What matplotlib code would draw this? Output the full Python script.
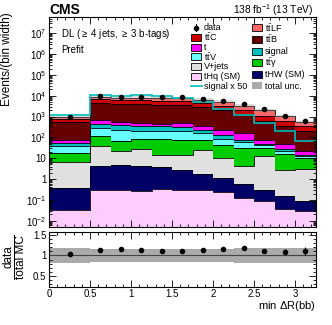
import numpy as np
import matplotlib
matplotlib.use('Agg')
import matplotlib.pyplot as plt
from matplotlib.ticker import FixedLocator, MultipleLocator, FuncFormatter, NullFormatter
from matplotlib.patches import Rectangle
from matplotlib.lines import Line2D

plt.rcParams['font.family'] = ['Liberation Sans', 'DejaVu Sans']
plt.rcParams['mathtext.fontset'] = 'custom'
plt.rcParams['mathtext.rm'] = 'Liberation Sans'
plt.rcParams['mathtext.it'] = 'Liberation Sans:italic'
plt.rcParams['mathtext.bf'] = 'Liberation Sans:bold'

# binning in min dR(bb)
edges = [0, 0.5, 0.75, 1.0, 1.25, 1.5, 1.75, 2.0, 2.25, 2.5, 2.75, 3.0, 3.25]

# events / bin width, stacked from the bottom up
thq = [0.034, 0.29, 0.29, 0.28, 0.33, 0.31, 0.31, 0.25, 0.12, 0.085, 0.037, 0.030]
thw = [0.35, 3.8, 4.3, 4.1, 3.5, 2.5, 1.5, 0.86, 0.46, 0.20, 0.12, 0.054]
vjets = [6.5, 33, 17, 24, 11, 12, 24, 9.2, 3.8, 12, 2.5, 2.8]
ttgamma = [11, 76, 44, 57, 70, 64, 53, 35, 27, 19, 13.5, 7.5]
ttv = [19, 173, 172, 111, 111, 118, 86, 40, 27, 10.4, 7.1, 2.0]
signal = [17, 174, 145, 146, 146, 135, 73, 52, 20, 7.0, 4.8, 2.6]
single_t = [24, 204, 174, 156, 118, 156, 105, 83, 86, 30, 21, 8.3]
ttb = [478, 3900, 3660, 3720, 3320, 3290, 2690, 1950, 1160, 565, 320, 189]
ttc = [185, 2380, 2340, 2340, 2090, 2100, 1680, 1210, 850, 474, 274, 157]
ttlf = [194, 1340, 940, 1450, 1960, 1710, 1720, 1710, 1100, 933, 380, 169]

data = [968, 9460, 8660, 9160, 8660, 8470, 7330, 5880, 3860, 2270, 1117, 594]
signal_x50 = [1250, 10570, 10240, 11040, 9680, 7600, 5000, 2430, 1250, 498, 196, 65]
rel_unc = [0.18, 0.16, 0.16, 0.16, 0.16, 0.16, 0.16, 0.16, 0.17, 0.17, 0.18, 0.19]

stack = [
    (thq, '#ffccff'),
    (thw, '#000066'),
    (vjets, '#e0e0e0'),
    (ttgamma, '#00cc00'),
    (ttv, '#66ffff'),
    (signal, '#00c0c0'),
    (single_t, '#ff00ff'),
    (ttb, '#660000'),
    (ttc, '#cc0000'),
    (ttlf, '#ff6666'),
]

W, H = 332, 325
fig = plt.figure(figsize=(W / 100, H / 100), dpi=100)

def fx(x):
    return x / W

def fy(y):
    return 1 - y / H

ax = fig.add_axes([fx(49), fy(227), fx(315.5) - fx(49), fy(17) - fy(227)])
rax = fig.add_axes([fx(49), fy(286.5), fx(315.5) - fx(49), fy(231.5) - fy(286.5)])

edges = np.array(edges)
centers = 0.5 * (edges[1:] + edges[:-1])
widths = np.diff(edges)

bottom = np.full(len(centers), 1e-6)
for vals, col in stack:
    top = bottom + np.array(vals)
    ax.stairs(top, edges, baseline=bottom, fill=True, color=col, lw=0)
    ax.stairs(top, edges, baseline=None, color='k', lw=0.6)
    bottom = top
total = bottom

unc = np.array(rel_unc)
ax.stairs(total * (1 + unc), edges, baseline=total * (1 - unc), fill=True,
          color='#999999', alpha=0.35, lw=0)
ax.stairs(np.array(signal_x50), edges, baseline=None, color='#00bbbb', lw=1.2)

data = np.array(data)
counts = data * widths
derr = np.sqrt(counts) / widths
ax.errorbar(centers, data, yerr=derr, fmt='o', color='k', ms=3, lw=0.8, capsize=0)

ax.set_yscale('log')
ax.set_ylim(5e-3, 6e7)
ax.set_xlim(0, 3.25)

def logfmt(v, pos):
    e = int(round(np.log10(v)))
    if e == 0:
        return '1'
    if e == 1:
        return '10'
    return r'$10^{%d}$' % e

decades = 10.0 ** np.arange(-3, 8)
minors = [d * s for d in decades for s in range(2, 10) if 5e-3 <= d * s <= 6e7]
ax.yaxis.set_major_locator(FixedLocator(10.0 ** np.arange(-2, 8)))
ax.yaxis.set_minor_locator(FixedLocator(minors))
ax.yaxis.set_major_formatter(FuncFormatter(logfmt))
ax.yaxis.set_minor_formatter(NullFormatter())
ax.xaxis.set_major_locator(MultipleLocator(0.5))
ax.xaxis.set_minor_locator(MultipleLocator(0.1))
ax.tick_params(axis='x', labelbottom=False)

for a in (ax, rax):
    a.tick_params(which='both', direction='in', top=True, right=True, labelsize=7)
    a.tick_params(which='major', length=5, width=0.6)
    a.tick_params(which='minor', length=2.5, width=0.6)
    for s in a.spines.values():
        s.set_linewidth(0.8)
ax.tick_params(axis='y', labelsize=7, pad=2)

# ratio panel
ratio = data / total
rerr = derr / total
rax.stairs(1 + unc, edges, baseline=1 - unc, fill=True, color='#aaaaaa', lw=0)
rax.axhline(1, color='#444444', lw=0.8)
rax.errorbar(centers, ratio, yerr=rerr, fmt='o', color='k', ms=3, lw=0.8, capsize=0)
rax.set_xlim(0, 3.25)
rax.set_ylim(0.25, 1.58)
rax.yaxis.set_major_locator(FixedLocator([0.5, 1.0, 1.5]))
rax.yaxis.set_minor_locator(MultipleLocator(0.1))
rax.xaxis.set_major_locator(FixedLocator([0, 0.5, 1, 1.5, 2, 2.5, 3]))
rax.xaxis.set_minor_locator(MultipleLocator(0.1))
rax.yaxis.set_major_formatter(FuncFormatter(lambda v, p: '%g' % v))
rax.xaxis.set_major_formatter(FuncFormatter(lambda v, p: '%g' % v))
rax.tick_params(axis='x', pad=2)
rax.tick_params(axis='y', pad=2)

# text
fig.text(fx(49), fy(14), 'CMS', fontsize=10, fontweight='bold', ha='left', va='baseline')
fig.text(fx(313), fy(14), r'138 fb$^{-1}$ (13 TeV)', fontsize=7.3, ha='right', va='baseline')
fig.text(fx(61), fy(34), r'DL ($\geq$ 4 jets, $\geq$ 3 b-tags)', fontsize=7, ha='left', va='center')
fig.text(fx(61), fy(50), 'Prefit', fontsize=7, ha='left', va='center')
fig.text(fx(7), fy(12), 'Events/(bin width)', fontsize=8.5, rotation=90, ha='center', va='top')
# ratio y title as a stacked fraction
fig.text(fx(8), fy(257), 'data', fontsize=8.5, rotation=90, ha='center', va='center')
fig.add_artist(Line2D([fx(14), fx(14)], [fy(235), fy(279)], transform=fig.transFigure,
                      color='k', lw=0.7))
fig.text(fx(20.5), fy(257), 'total MC', fontsize=8.5, rotation=90, ha='center', va='center')
fig.text(fx(316), fy(306), r'min $\Delta$R(bb)', fontsize=8, ha='right', va='center')

# legend, two columns of equal height
col1 = [('data', None, 'data'), ('box', '#cc0000', r'$\mathrm{t\bar{t}C}$'),
        ('box', '#ff00ff', 't'), ('box', '#66ffff', r'$\mathrm{t\bar{t}V}$'),
        ('box', '#e0e0e0', 'V+jets'), ('box', '#ffccff', 'tHq (SM)'),
        ('line', '#00bbbb', 'signal x 50')]
col2 = [('box', '#ff6666', r'$\mathrm{t\bar{t}LF}$'), ('box', '#660000', r'$\mathrm{t\bar{t}B}$'),
        ('box', '#00c0c0', 'signal'), ('box', '#00cc00', r'$\mathrm{t\bar{t}\gamma}$'),
        ('box', '#000066', 'tHW (SM)'), ('grey', '#aaaaaa', 'total unc.')]

def draw_col(entries, x0, ytop, ybot):
    n = len(entries)
    step = (ybot - ytop) / (n - 1)
    for i, (kind, col, lab) in enumerate(entries):
        y = ytop + i * step
        if kind == 'box' or kind == 'grey':
            r = Rectangle((fx(x0), fy(y + 3.5)), fx(10), 7 / H, transform=fig.transFigure,
                          facecolor=col, edgecolor='k' if kind == 'box' else 'none', lw=0.6)
            fig.add_artist(r)
        elif kind == 'line':
            fig.add_artist(Line2D([fx(x0), fx(x0 + 11)], [fy(y), fy(y)],
                                  transform=fig.transFigure, color=col, lw=1.2))
        else:
            fig.add_artist(Line2D([fx(x0 + 5)], [fy(y)], transform=fig.transFigure,
                                  marker='o', color='k', ms=3))
            fig.add_artist(Line2D([fx(x0 + 5), fx(x0 + 5)], [fy(y - 3.5), fy(y + 3.5)],
                                  transform=fig.transFigure, color='k', lw=0.8))
        fig.text(fx(x0 + 13), fy(y), lab, fontsize=6.5, ha='left', va='center')

draw_col(col1, 191, 27.7, 86)
draw_col(col2, 252, 27.7, 86)

fig.savefig('out.png', dpi=100)
